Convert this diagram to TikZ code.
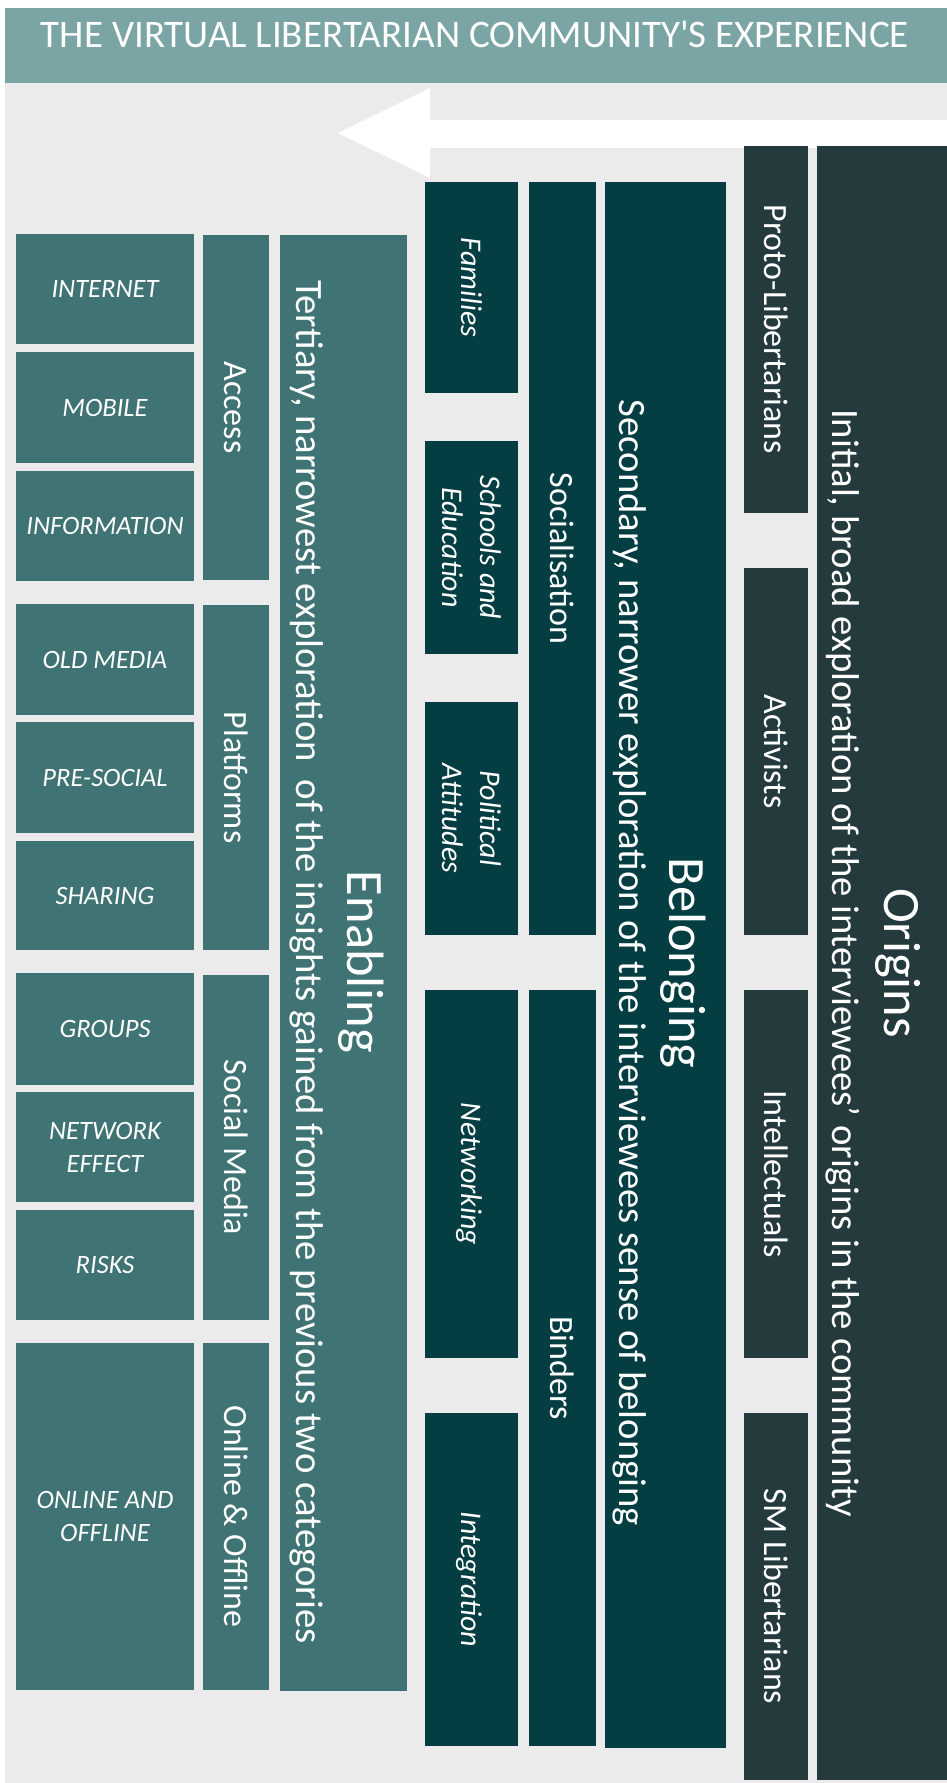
\documentclass[tikz,border=0pt]{standalone}
\usepackage{fontspec}
\setmainfont{Carlito}[Ligatures=TeXOff]
\definecolor{hdr}{RGB}{123,165,164}
\definecolor{bgc}{RGB}{235,235,235}
\definecolor{orig}{RGB}{37,58,61}
\definecolor{belo}{RGB}{5,62,66}
\definecolor{enab}{RGB}{63,115,116}
% rotated box: #1 style, #2 name, #3 fill, #4 x1, #5 y1, #6 x2, #7 y2, #8 text
\newcommand{\mybox}[8]{%
  \node[#1, fill=#3, minimum width={#7-#5}, minimum height={#6-#4}] (#2) at ({(#4+#6)/2},{(#5+#7)/2}) {#8};}
% horizontal box
\newcommand{\myitem}[6]{%
  \node[itembox, minimum width={#5-#3}, minimum height={#6-#4}] (#1) at ({(#3+#5)/2},{(#4+#6)/2}) {#2};}
\begin{document}
\begin{tikzpicture}[x=1pt,y=-1pt,
  base/.style={inner sep=0pt, outer sep=0pt, text=white},
  plainbox/.style={base, rotate=-90},
  subbox/.style={base, rotate=-90, font=\fontsize{34}{40}\selectfont, text height=24pt, text depth=0pt},
  italbox/.style={base, rotate=-90, font=\fontsize{30}{38}\selectfont\itshape, text height=21pt, text depth=0pt},
  italtwo/.style={base, rotate=-90, font=\fontsize{30}{38}\selectfont\itshape, align=center},
  itembox/.style={base, fill=enab, font=\fontsize{26.5}{33}\selectfont\itshape, align=center},
  maintitle/.style={base, rotate=-90, anchor=base, font=\fontsize{52.5}{60}\selectfont},
  mainsub/.style={base, rotate=-90, anchor=base, font=\fontsize{38.7}{46}\selectfont}]
\useasboundingbox (0,0) rectangle (947,1783);
% background and header
\fill[bgc] (5,83) rectangle (947,1783);
\fill[hdr] (5,8) rectangle (947,83);
\node[base, anchor=base, font=\fontsize{39}{45}\selectfont] (title) at (475,47) {THE VIRTUAL LIBERTARIAN COMMUNITY'S EXPERIENCE};
% big white arrow
\fill[white] (947,120) -- (430,120) -- (430,88) -- (338,133) -- (430,178) -- (430,148) -- (947,148) -- cycle;
% Origins
\mybox{plainbox}{origins}{orig}{817}{146}{947}{1780}{}
\node[maintitle] (originsT) at (884,963) {Origins};
\node[mainsub] (originsS) at (832,963) {Initial, broad exploration of the interviewees’ origins in the community};
\mybox{subbox}{proto}{orig}{744}{146}{808}{513}{Proto-Libertarians}
\mybox{subbox}{activ}{orig}{744}{568}{808}{935}{Activists}
\mybox{subbox}{intel}{orig}{744}{990}{808}{1358}{Intellectuals}
\mybox{subbox}{smlib}{orig}{744}{1413}{808}{1780}{SM Libertarians}
% Belonging
\mybox{plainbox}{belonging}{belo}{605}{182}{726}{1748}{}
\node[maintitle] (belongingT) at (669,963) {Belonging};
\node[mainsub] (belongingS) at (619,963) {Secondary, narrower exploration of the interviewees sense of belonging};
\mybox{subbox}{social}{belo}{529}{182}{596}{935}{Socialisation}
\mybox{subbox}{binders}{belo}{529}{990}{596}{1746}{Binders}
\mybox{italbox}{families}{belo}{425}{182}{518}{393}{Families}
\mybox{italtwo}{schools}{belo}{425}{441}{518}{654}{Schools and\\Education}
\mybox{italtwo}{political}{belo}{425}{702}{518}{935}{Political\\Attitudes}
\mybox{italbox}{network}{belo}{425}{990}{518}{1358}{Networking}
\mybox{italbox}{integr}{belo}{425}{1413}{518}{1746}{Integration}
% Enabling
\mybox{plainbox}{enabling}{enab}{280}{235}{407}{1691}{}
\node[maintitle] (enablingT) at (347,962) {Enabling};
\node[mainsub] (enablingS) at (296,962) {Tertiary, narrowest exploration\ \ of the insights gained from the previous two categories};
\mybox{subbox}{access}{enab}{203}{235}{269}{580}{Access}
\mybox{subbox}{platforms}{enab}{203}{605}{269}{950}{Platforms}
\mybox{subbox}{socmedia}{enab}{203}{975}{269}{1320}{Social Media}
\mybox{subbox}{onoff}{enab}{203}{1343}{269}{1690}{Online \& Offline}
% items
\myitem{internet}{INTERNET}{16}{234}{194}{344}
\myitem{mobile}{MOBILE}{16}{352}{194}{463}
\myitem{information}{INFORMATION}{16}{471}{194}{581}
\myitem{oldmedia}{OLD MEDIA}{16}{604}{194}{715}
\myitem{presocial}{PRE-SOCIAL}{16}{722}{194}{833}
\myitem{sharing}{SHARING}{16}{841}{194}{950}
\myitem{groups}{GROUPS}{16}{973}{194}{1085}
\myitem{neteffect}{NETWORK\\EFFECT}{16}{1092}{194}{1202}
\myitem{risks}{RISKS}{16}{1210}{194}{1320}
\myitem{onlineoffline}{ONLINE AND\\OFFLINE}{16}{1343}{194}{1690}
\end{tikzpicture}
\end{document}
